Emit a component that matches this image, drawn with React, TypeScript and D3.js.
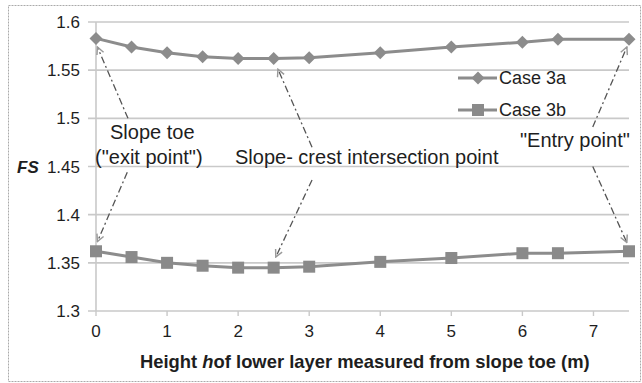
import React from 'react';
import * as d3 from 'd3';

const heights = [0, 0.5, 1, 1.5, 2, 2.5, 3, 4, 5, 6, 6.5, 7.5];
const case3a = [1.583, 1.574, 1.568, 1.564, 1.562, 1.562, 1.563, 1.568, 1.574, 1.579, 1.582, 1.582];
const case3b = [1.362, 1.356, 1.35, 1.347, 1.345, 1.345, 1.346, 1.351, 1.355, 1.36, 1.36, 1.362];
const yTicks = [1.3, 1.35, 1.4, 1.45, 1.5, 1.55, 1.6];
const xTicks = [0, 1, 2, 3, 4, 5, 6, 7];

// annotation arrows, in data units: [fromX, fromY, toX, toY]
const arrows: [number, number, number, number][] = [
  [0.45, 1.5, 0.02, 1.574],
  [0.44, 1.444, 0.02, 1.372],
  [3.04, 1.47, 2.56, 1.551],
  [3.04, 1.436, 2.53, 1.356],
  [6.99, 1.491, 7.47, 1.574],
  [6.99, 1.45, 7.47, 1.371],
];

const W = 642;
const H = 383;
const font = '"Liberation Sans", Arial, sans-serif';

export default function App() {
  const x = d3.scaleLinear().domain([0, 7.5]).range([96, 629]);
  const y = d3.scaleLinear().domain([1.3, 1.6]).range([311, 22]);

  const line = d3.line<number>()
    .x((_, i) => x(heights[i]))
    .y(d => y(d));

  const lineColor = '#8c8c8c';
  const gridColor = '#c9c9c9';
  const textColor = '#1e1e1e';

  const diamond = (cx: number, cy: number, r = 6.5) =>
    `M${cx},${cy - r}L${cx + r},${cy}L${cx},${cy + r}L${cx - r},${cy}Z`;

  return (
    <div style={{ position: 'fixed', left: 0, top: 0 }}>
      <svg width={W} height={H} viewBox={`0 0 ${W} ${H}`} style={{ display: 'block', background: '#fff' }}>
        <defs>
          <marker id="arr" viewBox="0 0 10 10" refX="9" refY="5" markerWidth="9" markerHeight="9" orient="auto-start-reverse" markerUnits="userSpaceOnUse">
            <path d="M1,1L9,5L1,9" fill="none" stroke="#999" strokeWidth="1.6" />
          </marker>
        </defs>

        {/* outer frame */}
        <rect x={8.5} y={5.5} width={632} height={376} fill="none" stroke="#aaa" strokeWidth={1} strokeDasharray="2,1" />

        {/* gridlines */}
        {yTicks.map(t => (
          <line key={t} x1={88} x2={629} y1={y(t)} y2={y(t)} stroke={gridColor} strokeWidth={1.6} />
        ))}
        {/* y axis */}
        <line x1={x(0)} x2={x(0)} y1={y(1.6)} y2={y(1.3)} stroke={gridColor} strokeWidth={1.6} />
        {/* x ticks */}
        {xTicks.map(t => (
          <line key={t} x1={x(t)} x2={x(t)} y1={y(1.3)} y2={y(1.3) + 5} stroke={gridColor} strokeWidth={1.4} />
        ))}

        {/* tick labels */}
        {yTicks.map(t => (
          <text key={t} x={80} y={y(t) + 6} textAnchor="end" fontFamily={font} fontSize={17} fill={textColor}>
            {d3.format('')(t)}
          </text>
        ))}
        {xTicks.map(t => (
          <text key={t} x={x(t)} y={337} textAnchor="middle" fontFamily={font} fontSize={17} fill={textColor}>
            {t}
          </text>
        ))}

        <text x={17} y={y(1.45) + 6} fontFamily={font} fontSize={17} fontWeight="bold" fontStyle="italic" fill={textColor}>FS</text>
        <text x={140} y={368} fontFamily={font} fontSize={18.4} fontWeight="bold" fill={textColor}>
          Height <tspan fontStyle="italic">h</tspan>of lower layer measured from slope toe (m)
        </text>

        {/* series */}
        <path d={line(case3a) || ''} fill="none" stroke={lineColor} strokeWidth={3} />
        <path d={line(case3b) || ''} fill="none" stroke={lineColor} strokeWidth={3} />
        {case3a.map((v, i) => (
          <path key={i} d={diamond(x(heights[i]), y(v))} fill={lineColor} />
        ))}
        {case3b.map((v, i) => (
          <rect key={i} x={x(heights[i]) - 6} y={y(v) - 6} width={12} height={12} fill="#8a8a8a" />
        ))}

        {/* legend */}
        <line x1={458} x2={497} y1={78} y2={78} stroke={lineColor} strokeWidth={3} />
        <path d={diamond(478, 78)} fill={lineColor} />
        <text x={499} y={84} fontFamily={font} fontSize={18} fill={textColor}>Case 3a</text>
        <line x1={458} x2={497} y1={110} y2={110} stroke={lineColor} strokeWidth={3} />
        <rect x={472} y={104} width={12} height={12} fill="#8a8a8a" />
        <text x={499} y={116} fontFamily={font} fontSize={18} fill={textColor}>Case 3b</text>

        {/* annotations */}
        {arrows.map((a, i) => (
          <line key={i} x1={x(a[0])} y1={y(a[1])} x2={x(a[2])} y2={y(a[3])}
            stroke="#555" strokeWidth={1.3} strokeDasharray="7,3,2,3" markerEnd="url(#arr)" />
        ))}
        <text x={110} y={139} fontFamily={font} fontSize={20} fill={textColor}>Slope toe</text>
        <text x={95} y={164} fontFamily={font} fontSize={20} fill={textColor}>("exit point")</text>
        <text x={235} y={164} fontFamily={font} fontSize={20} fill={textColor}>Slope- crest intersection point</text>
        <text x={520} y={147} fontFamily={font} fontSize={20} fill={textColor}>"Entry point"</text>
      </svg>
    </div>
  );
}
